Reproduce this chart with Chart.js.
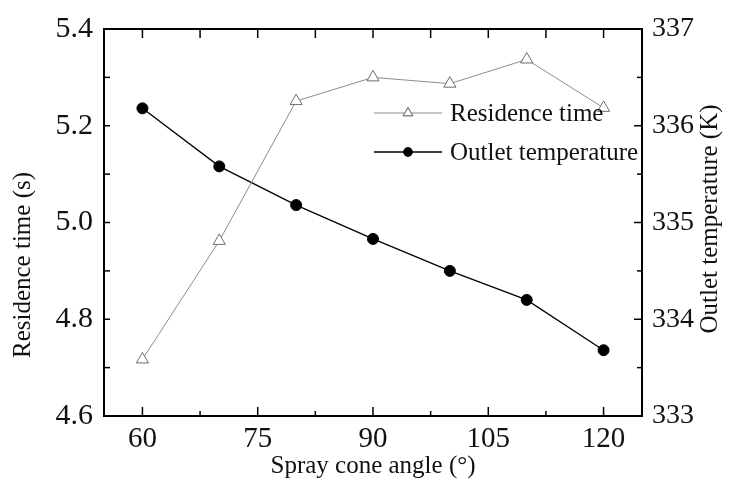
<!DOCTYPE html>
<html>
<head>
<meta charset="utf-8">
<script src="https://cdn.jsdelivr.net/npm/chart.js@4/dist/chart.umd.min.js"></script>
<style>
  html, body { margin: 0; padding: 0; background: #fff; }
  #chart { display: block; }
</style>
</head>
<body>
<canvas id="chart" width="736" height="487"></canvas>
<script>
// Data
const sprayAngles = [60, 70, 80, 90, 100, 110, 120];
const residenceTime = [4.717, 4.962, 5.251, 5.300, 5.287, 5.337, 5.237];
const outletTemp = [336.18, 335.58, 335.18, 334.83, 334.50, 334.20, 333.68];

// Tick labels
const xTicks = [60, 75, 90, 105, 120];
const leftTicks = [4.6, 4.8, 5.0, 5.2, 5.4];
const rightTicks = [333, 334, 335, 336, 337];

const FONT = "'Liberation Serif', 'Times New Roman', serif";

// minor ticks sit halfway between the major ones
function halfSteps(arr) {
  const out = [];
  for (let i = 0; i < arr.length - 1; i++) out.push((arr[i] + arr[i + 1]) / 2);
  return out;
}

// Frame, inward ticks, y titles and the legend
const decorPlugin = {
  id: "decor",
  afterDraw(chart) {
    const { ctx, chartArea: a, scales } = chart;
    ctx.save();
    ctx.strokeStyle = "#000";
    ctx.lineWidth = 2;
    ctx.strokeRect(a.left, a.top, a.right - a.left, a.bottom - a.top);

    ctx.lineWidth = 1.5;
    const line = (x1, y1, x2, y2) => {
      ctx.beginPath(); ctx.moveTo(x1, y1); ctx.lineTo(x2, y2); ctx.stroke();
    };
    const xs = scales.x, yl = scales.y, yr = scales.y2;
    xTicks.forEach(v => {
      const p = xs.getPixelForValue(v);
      line(p, a.bottom, p, a.bottom - 9);
      line(p, a.top, p, a.top + 9);
    });
    halfSteps(xTicks).forEach(v => {
      const p = xs.getPixelForValue(v);
      line(p, a.bottom, p, a.bottom - 5);
      line(p, a.top, p, a.top + 9);
    });
    leftTicks.concat(halfSteps(leftTicks)).forEach(v => {
      const p = yl.getPixelForValue(v);
      line(a.left, p, a.left + 6, p);
    });
    rightTicks.forEach(v => {
      const p = yr.getPixelForValue(v);
      line(a.right, p, a.right - 8, p);
    });
    halfSteps(rightTicks).forEach(v => {
      const p = yr.getPixelForValue(v);
      line(a.right, p, a.right - 5, p);
    });

    // y titles, both read bottom to top
    ctx.fillStyle = "#111";
    ctx.font = "25px " + FONT;
    ctx.textAlign = "center";
    ctx.textBaseline = "middle";
    ctx.save();
    ctx.translate(23, 265);
    ctx.rotate(-Math.PI / 2);
    ctx.fillText("Residence time (s)", 0, 0);
    ctx.restore();
    ctx.save();
    ctx.translate(710, 219);
    ctx.rotate(-Math.PI / 2);
    ctx.fillText("Outlet temperature (K)", 0, 0);
    ctx.restore();

    // legend
    const items = [
      { label: "Residence time", y: 113, ds: chart.data.datasets[0] },
      { label: "Outlet temperature", y: 152, ds: chart.data.datasets[1] }
    ];
    ctx.textAlign = "left";
    items.forEach(it => {
      ctx.strokeStyle = it.ds.borderColor;
      ctx.lineWidth = it.ds.borderWidth;
      line(374, it.y, 442, it.y);
      Chart.helpers.drawPoint(ctx, {
        pointStyle: it.ds.pointStyle,
        radius: it.ds.pointRadius - 1.5,
        borderWidth: 1,
        rotation: 0
      }, 408, it.y);
      ctx.fillStyle = it.ds.pointBackgroundColor;
      ctx.strokeStyle = it.ds.pointBorderColor;
      ctx.fill();
      ctx.stroke();
      ctx.fillStyle = "#111";
      ctx.fillText(it.label, 450, it.y + 1);
    });
    ctx.restore();
  }
};

const ctx = document.getElementById("chart").getContext("2d");
new Chart(ctx, {
  type: "line",
  data: {
    datasets: [{
      label: "Residence time",
      data: sprayAngles.map((x, i) => ({ x: x, y: residenceTime[i] })),
      yAxisID: "y",
      borderColor: "#8c8c8c",
      borderWidth: 1,
      pointStyle: "triangle",
      pointRadius: 7,
      pointBackgroundColor: "#fff",
      pointBorderColor: "#6e6e6e",
      pointBorderWidth: 1
    }, {
      label: "Outlet temperature",
      data: sprayAngles.map((x, i) => ({ x: x, y: outletTemp[i] })),
      yAxisID: "y2",
      borderColor: "#000",
      borderWidth: 1.3,
      pointStyle: "circle",
      pointRadius: 5.5,
      pointBackgroundColor: "#000",
      pointBorderColor: "#000",
      pointBorderWidth: 1
    }]
  },
  options: {
    responsive: false,
    animation: false,
    devicePixelRatio: 1,
    layout: { padding: { top: 20, left: 0, right: 0, bottom: 0 } },
    plugins: { legend: { display: false }, tooltip: { enabled: false } },
    scales: {
      x: {
        type: "linear",
        min: 55, max: 125,
        afterBuildTicks: s => { s.ticks = xTicks.map(v => ({ value: v })); },
        afterFit: s => { s.height = 71; },
        grid: { display: false, drawTicks: false },
        border: { display: false },
        ticks: { color: "#111", padding: 6, maxRotation: 0, font: { family: FONT, size: 29 } },
        title: {
          display: true, text: "Spray cone angle (°)", color: "#111",
          padding: { top: 0, bottom: 6 }, font: { family: FONT, size: 25 }
        }
      },
      y: {
        position: "left",
        min: 4.6, max: 5.4,
        afterBuildTicks: s => { s.ticks = leftTicks.map(v => ({ value: v })); },
        afterFit: s => { s.width = 104; },
        grid: { display: false, drawTicks: false },
        border: { display: false },
        ticks: { color: "#111", padding: 11, callback: v => v.toFixed(1), font: { family: FONT, size: 30 } }
      },
      y2: {
        position: "right",
        min: 333, max: 337,
        afterBuildTicks: s => { s.ticks = rightTicks.map(v => ({ value: v })); },
        afterFit: s => { s.width = 94; },
        grid: { display: false, drawTicks: false },
        border: { display: false },
        ticks: { color: "#111", padding: 10, font: { family: FONT, size: 28 } }
      }
    }
  },
  plugins: [decorPlugin]
});
</script>
</body>
</html>
